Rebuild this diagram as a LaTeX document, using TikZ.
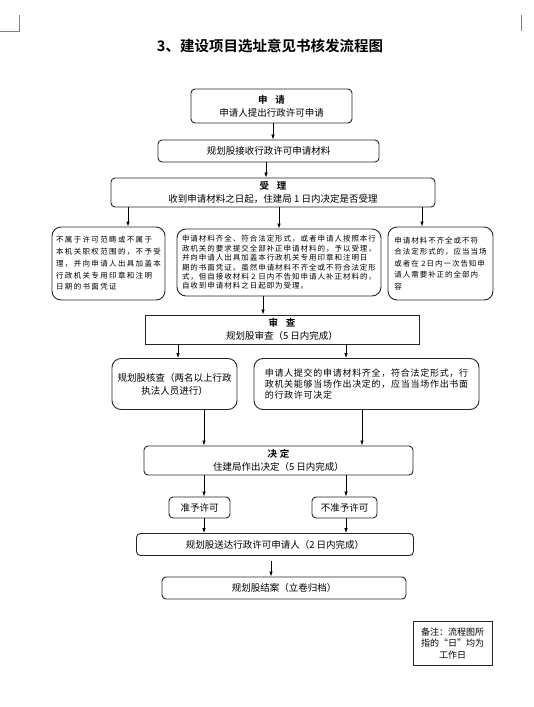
\documentclass[tikz,border=0pt]{standalone}
\usepackage{fontspec}
\setmainfont{Noto Sans CJK SC}[BoldFont={Noto Sans CJK SC Bold}]
\newfontfamily\smallcjk{Noto Sans CJK SC}[LetterSpace=13]
\newfontfamily\widecjk{Noto Sans CJK SC}[LetterSpace=18]
\newfontfamily\midcjk{Noto Sans CJK SC}[LetterSpace=8]
\usetikzlibrary{arrows.meta}

\begin{document}
\begin{tikzpicture}[x=1pt,y=-1pt,
  box/.style={draw=black!85,line width=0.9pt,rounded corners=4pt,inner sep=1pt,align=center,font=\fontsize{9.5}{13}\selectfont},
  roundbox/.style={box,rounded corners=9pt},
  flatbox/.style={box,sharp corners},
  arr/.style={-{Latex[length=5pt,width=3.5pt]},line width=0.7pt}]
\useasboundingbox (0,0) rectangle (533,707);
\draw[gray,line width=0.5pt] (0,31) -- (19,31) -- (19,15);
\draw[gray,line width=0.5pt] (521,15) -- (521,31);
\node (title) at (270,46) {\fontsize{14.5}{16}\selectfont\bfseries 3、建设项目选址意见书核发流程图};
\node[box,minimum width=161,minimum height=34] (sq) at (271.5,106) {\textbf{申\hspace{0.8em}请}\\申请人提出行政许可申请};
\node[box,minimum width=221,minimum height=22] (js) at (268.5,151) {规划股接收行政许可申请材料};
\node[box,minimum width=324,minimum height=29] (sl) at (273,192.5) {\textbf{受\hspace{0.8em}理}\\收到申请材料之日起，住建局 1 日内决定是否受理};
\node[roundbox,minimum width=113,minimum height=73,align=left,font=\widecjk\fontsize{7.5}{11.8}\selectfont] (bj) at (108.5,263.5) {不属于许可范畴或不属于\\本机关职权范围的，不予受\\理，并向申请人出具加盖本\\行政机关专用印章和注明\\日期的书面凭证};
\node[roundbox,minimum width=204,minimum height=67,align=left,font=\smallcjk\fontsize{7.5}{9.4}\selectfont] (yj) at (279,262.5) {申请材料齐全、符合法定形式，或者申请人按照本行\\政机关的要求提交全部补正申请材料的，予以受理，\\并向申请人出具加盖本行政机关专用印章和注明日\\期的书面凭证。虽然申请材料不齐全或不符合法定形\\式，但自接收材料 2 日内不告知申请人补正材料的，\\自收到申请材料之日起即为受理。};
\node[roundbox,minimum width=105,minimum height=73,align=left,font=\smallcjk\fontsize{7.5}{11.5}\selectfont] (bz) at (440.5,263.5) {申请材料不齐全或不符\\合法定形式的，应当当场\\或者在 2日内一次告知申\\请人需要补正的全部内\\容};
\node[flatbox,minimum width=274,minimum height=29] (sc) at (282,329.5) {\textbf{审\hspace{0.8em}查}\\规划股审查（5 日内完成）};
\node[roundbox,minimum width=125,minimum height=51] (hc) at (174.5,384) {规划股核查（两名以上行政\\执法人员进行）};
\node[roundbox,minimum width=225,minimum height=51,align=left,font=\midcjk\fontsize{9}{11}\selectfont] (cj) at (366.5,384) {申请人提交的申请材料齐全，符合法定形式，行\\政机关能够当场作出决定的，应当当场作出书面\\的行政许可决定};
\node[box,minimum width=269,minimum height=29] (jd) at (278.5,460.5) {\textbf{决\hspace{0.3em}定}\\住建局作出决定（5 日内完成）};
\node[box,minimum width=61,minimum height=21] (zy) at (199.5,507.5) {准予许可};
\node[box,minimum width=65,minimum height=21] (bzy) at (344.5,507.5) {不准予许可};
\node[box,minimum width=277,minimum height=22] (sd) at (275,544.5) {规划股送达行政许可申请人（2 日内完成）};
\node[box,minimum width=244,minimum height=22] (ja) at (284,588) {规划股结案（立卷归档）};
\node[flatbox,minimum width=79,minimum height=44,font=\fontsize{9}{11.5}\selectfont] (note) at (452.5,643.5) {备注：流程图所\\指的“日”均为\\工作日};
\draw[arr] ([xshift=1.5pt]sq.south) -- ([xshift=1.5pt]sq.south |- js.north);
\draw[arr] ([xshift=-2.5pt]js.south) -- ([xshift=-2.5pt]js.south |- sl.north);
\draw[arr] ([xshift=19.5pt]bj.north |- sl.south) -- ([xshift=19.5pt]bj.north);
\draw[arr] (yj.north |- sl.south) -- (yj.north);
\draw[arr] ([xshift=-18.5pt]bz.north |- sl.south) -- ([xshift=-18.5pt]bz.north);
\draw[arr] ([xshift=-16pt]yj.south) -- ([xshift=-16pt]yj.south |- sc.north);
\draw[arr] ([xshift=3.5pt]hc.north |- sc.south) -- ([xshift=3.5pt]hc.north);
\draw[arr] ([xshift=-20.5pt]cj.north |- sc.south) -- ([xshift=-20.5pt]cj.north);
\draw[arr] ([xshift=29.5pt]hc.south) -- ([xshift=29.5pt]hc.south |- jd.north);
\draw[arr] ([xshift=-4.5pt]cj.south) -- ([xshift=-4.5pt]cj.south |- jd.north);
\draw[arr] ([xshift=4.5pt]zy.north |- jd.south) -- ([xshift=4.5pt]zy.north);
\draw[arr] ([xshift=1.5pt]bzy.north |- jd.south) -- ([xshift=1.5pt]bzy.north);
\draw[arr] ([xshift=4.5pt]zy.south) -- ([xshift=4.5pt]zy.south |- sd.north);
\draw[arr] ([xshift=1.5pt]bzy.south) -- ([xshift=1.5pt]bzy.south |- sd.north);
\draw[arr] ([xshift=-4pt,yshift=-5pt]sd.south) -- ([xshift=-13pt]ja.north);
\end{tikzpicture}
\end{document}
